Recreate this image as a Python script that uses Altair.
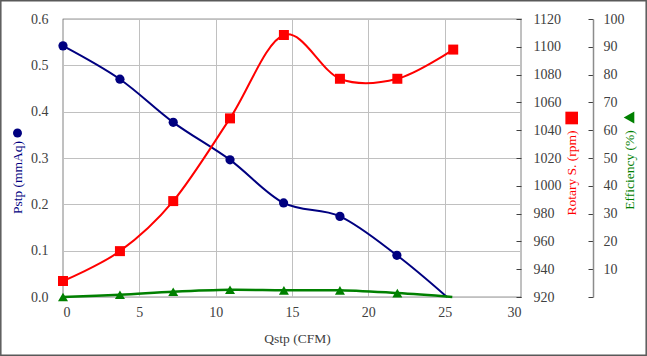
import altair as alt
import pandas as pd

# ---- data ----
q_pstp = [0.0, 3.73, 7.22, 10.94, 14.45, 18.14, 21.87, 25.15]
pstp = [0.542, 0.470, 0.377, 0.296, 0.203, 0.174, 0.090, 0.0]
pstp_marker = [True, True, True, True, True, True, True, False]

q_rpm = [0.0, 3.73, 7.22, 10.94, 14.47, 18.14, 21.90, 25.56]
rpm = [931.5, 953.0, 989.0, 1048.5, 1108.5, 1077.0, 1077.0, 1098.0]

q_eff = [0.0, 3.73, 7.22, 10.94, 14.47, 18.14, 21.90, 25.50]
eff = [0.0, 0.8, 1.9, 2.6, 2.4, 2.4, 1.4, 0.0]
eff_marker = [True, True, True, True, True, True, True, False]

x_ticks = [0, 5, 10, 15, 20, 25, 30]
pstp_ticks = [0.0, 0.1, 0.2, 0.3, 0.4, 0.5, 0.6]
rpm_ticks = [920, 940, 960, 980, 1000, 1020, 1040, 1060, 1080, 1100, 1120]
eff_ticks = [0, 10, 20, 30, 40, 50, 60, 70, 80, 90, 100]

x_title = "Qstp (CFM)"
pstp_title = "Pstp (mmAq)"
rpm_title = "Rotary S. (rpm)"
eff_title = "Efficiency (%)"

# ---- style ----
W, H = 458, 278
FONT = "Liberation Serif"
LFONT = "Times New Roman"
BLUE, RED, GREEN = "#000080", "#ff0000", "#008000"
DARK = "#404040"
GRID = "#c0c0c0"
LBL = dict(labelFont=LFONT, labelFontSize=14, labelColor=DARK,
           titleFont=FONT, titleFontSize=13.5, titleFontWeight="normal")

df_p = pd.DataFrame({"q": q_pstp, "v": pstp, "m": pstp_marker})
df_r = pd.DataFrame({"q": q_rpm, "v": rpm})
df_e = pd.DataFrame({"q": q_eff, "v": eff, "m": eff_marker})

X = alt.X(
    "q:Q",
    scale=alt.Scale(domain=[0, 30], nice=False, zero=False),
    axis=alt.Axis(
        values=x_ticks, format="d", title=x_title, grid=True, gridColor=GRID, gridWidth=1,
        ticks=False, tickSize=0, domain=False, labelPadding=8,
        titleX=234, titleY=41, titleBaseline="middle", titleColor=DARK, **LBL,
    ),
)

# Pstp (left axis)
y_p = alt.Y(
    "v:Q",
    scale=alt.Scale(domain=[0, 0.6], nice=False, zero=False),
    axis=alt.Axis(
        values=pstp_ticks, format=".1f", title=pstp_title, orient="left",
        grid=True, gridColor=GRID, gridWidth=1, ticks=False, tickSize=0,
        domain=False, labelPadding=15, titleColor=BLUE, titleAngle=270,
        titleX=-45.5, titleY=158, titleAlign="center", titleBaseline="middle", **LBL,
    ),
)
base_p = alt.Chart(df_p).encode(x=X, y=y_p)
layer_p = alt.layer(
    base_p.mark_line(color=BLUE, strokeWidth=2, interpolate="cardinal"),
    base_p.mark_point(shape="circle", filled=True, size=85, color=BLUE, opacity=1)
    .transform_filter("datum.m"),
)

# Rotary speed (first right axis, ticks pointing inward)
y_r = alt.Y(
    "v:Q",
    scale=alt.Scale(domain=[920, 1120], nice=False, zero=False),
    axis=alt.Axis(
        values=rpm_ticks, format="d", title=rpm_title, orient="left", offset=-W,
        grid=False, domain=False, ticks=True, tickSize=5, tickColor=DARK,
        labelAlign="left", labelPadding=-17, titleColor=RED, titleAngle=270,
        titleX=50.7, titleY=153.5, titleAlign="center", titleBaseline="middle", **LBL,
    ),
)
base_r = alt.Chart(df_r).encode(x=X, y=y_r)
layer_r = alt.layer(
    base_r.mark_line(color=RED, strokeWidth=2, interpolate="cardinal"),
    base_r.mark_point(shape="square", filled=True, size=100, color=RED, opacity=1),
)

# Efficiency (second right axis)
y_e = alt.Y(
    "v:Q",
    scale=alt.Scale(domain=[0, 100], nice=False, zero=False),
    axis=alt.Axis(
        values=eff_ticks, format="d", title=eff_title, orient="left", offset=-530,
        grid=False, domain=True, domainColor="#8c8c8c", domainWidth=1.5,
        ticks=True, tickSize=5, tickColor=DARK,
        labelAlign="left", labelPadding=-15,
        labelExpr="datum.value == 0 ? '' : datum.label",
        titleColor=GREEN, titleAngle=270,
        titleX=36, titleY=150.5, titleAlign="center", titleBaseline="middle", **LBL,
    ),
)
base_e = alt.Chart(df_e).encode(x=X, y=y_e)
layer_e = alt.layer(
    base_e.mark_line(color=GREEN, strokeWidth=2.5, interpolate="cardinal"),
    base_e.mark_point(shape="triangle-up", filled=True, size=100, color=GREEN, opacity=1)
    .transform_filter("datum.m"),
)

# decorations: outer frame and the series glyphs next to the axis titles
dummy = alt.Chart(pd.DataFrame({"d": [0]}))
frame = dummy.mark_rect(fill=None, stroke="#595959", strokeWidth=1.5).encode(
    x=alt.value(-62.2), x2=alt.value(583.2), y=alt.value(-18.2), y2=alt.value(336.2)
)
glyph_p = dummy.mark_point(shape="circle", filled=True, size=80, color=BLUE, opacity=1).encode(
    x=alt.value(-45.5), y=alt.value(114)
)
glyph_r = dummy.mark_point(shape="square", filled=True, size=160, color=RED, opacity=1).encode(
    x=alt.value(508.7), y=alt.value(99)
)
glyph_e = dummy.mark_point(shape="triangle-left", filled=True, size=150, color=GREEN, opacity=1).encode(
    x=alt.value(566), y=alt.value(98.5)
)

chart = (
    alt.layer(layer_p, layer_r, layer_e, frame, glyph_p, glyph_r, glyph_e)
    .resolve_scale(y="independent")
    .properties(
        width=W, height=H,
        padding={"left": 63, "top": 19, "right": 126, "bottom": 59},
        autosize=alt.AutoSizeParams(type="none"),
        background="white",
    )
    .configure(
        font=FONT,
        style={"guide-label": {"font": LFONT, "fontSize": 14, "fill": DARK},
               "guide-title": {"font": FONT, "fontSize": 13.5, "fontWeight": "normal"}},
    )
    .configure_axis(
        labelFont=LFONT, titleFont=FONT, labelFontSize=14, titleFontSize=13.5,
        labelColor=DARK, titleFontWeight="normal",
    )
    .configure_view(stroke="#333333", strokeWidth=1.2)
)

chart.save("out.html", embed_options={"renderer": "svg", "actions": False})
